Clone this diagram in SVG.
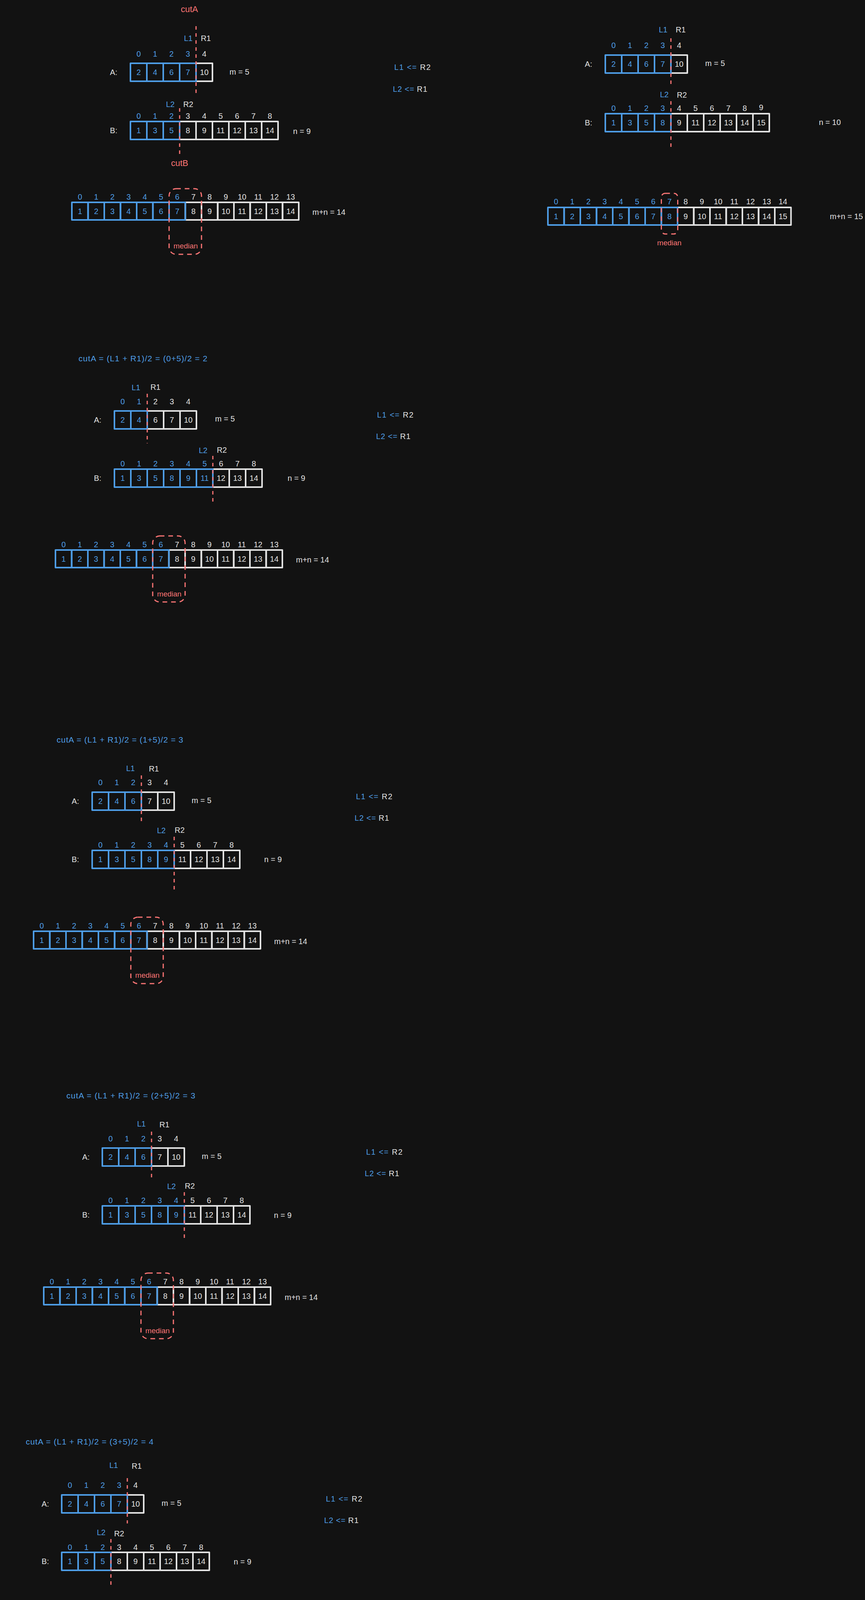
<svg xmlns="http://www.w3.org/2000/svg" width="2215" height="4324" viewBox="0 0 2215 4324">
<style>
.t{font-family:"Liberation Sans",Arial,sans-serif;font-size:20px;text-anchor:middle;dominant-baseline:central}
.s{text-anchor:start}
.f{font-size:21px}
.b{fill:#4e9de6}
.w{fill:#e2e2e2}
.r{fill:#fa7474}
.cb{fill:none;stroke:#4e9de6;stroke-width:4;stroke-linejoin:round}
.cw{fill:none;stroke:#e2e2e2;stroke-width:4;stroke-linejoin:round}
.cut{stroke:#fa7474;stroke-width:3;stroke-dasharray:9 9;fill:none}
.med{stroke:#fa7474;stroke-width:3;stroke-dasharray:12 10;fill:none}
</style>
<rect x="0" y="0" width="2215" height="4324" fill="#121212"/>

<!-- ===== Section 1 (left) ===== -->
<g id="sec1">
<text class="t r" x="485" y="23" style="font-size:22px">cutA</text>
<text class="t b" x="482" y="98">L1</text>
<text class="t w" x="527" y="98">R1</text>
<text class="t w" x="291" y="185">A:</text>
<text class="t w" x="613" y="184">m = 5</text>
<g id="s1-A" transform="translate(334,162)">
<rect class="cw" x="168" y="0" width="42" height="46"/>
<rect class="cb" x="0" y="0" width="42" height="46"/><rect class="cb" x="42" y="0" width="42" height="46"/><rect class="cb" x="84" y="0" width="42" height="46"/><rect class="cb" x="126" y="0" width="42" height="46"/>
<text class="t b" x="21" y="23">2</text><text class="t b" x="63" y="23">4</text><text class="t b" x="105" y="23">6</text><text class="t b" x="147" y="23">7</text><text class="t w" x="189" y="23">10</text>
<text class="t b" x="21" y="-24">0</text><text class="t b" x="63" y="-24">1</text><text class="t b" x="105" y="-24">2</text><text class="t b" x="147" y="-24">3</text><text class="t w" x="189" y="-24">4</text>
</g>
<text class="t b" x="436" y="267">L2</text>
<text class="t w" x="482" y="267">R2</text>
<text class="t w" x="291" y="334">B:</text>
<text class="t w" x="773" y="336">n = 9</text>
<g id="s1-B" transform="translate(334,311)">
<rect class="cw" x="126" y="0" width="42" height="46"/><rect class="cw" x="168" y="0" width="42" height="46"/><rect class="cw" x="210" y="0" width="42" height="46"/><rect class="cw" x="252" y="0" width="42" height="46"/><rect class="cw" x="294" y="0" width="42" height="46"/><rect class="cw" x="336" y="0" width="42" height="46"/>
<rect class="cb" x="0" y="0" width="42" height="46"/><rect class="cb" x="42" y="0" width="42" height="46"/><rect class="cb" x="84" y="0" width="42" height="46"/>
<text class="t b" x="21" y="23">1</text><text class="t b" x="63" y="23">3</text><text class="t b" x="105" y="23">5</text><text class="t w" x="147" y="23">8</text><text class="t w" x="189" y="23">9</text><text class="t w" x="231" y="23">11</text><text class="t w" x="273" y="23">12</text><text class="t w" x="315" y="23">13</text><text class="t w" x="357" y="23">14</text>
<text class="t b" x="21" y="-14">0</text><text class="t b" x="63" y="-14">1</text><text class="t b" x="105" y="-14">2</text><text class="t w" x="147" y="-14">3</text><text class="t w" x="189" y="-14">4</text><text class="t w" x="231" y="-14">5</text><text class="t w" x="273" y="-14">6</text><text class="t w" x="315" y="-14">7</text><text class="t w" x="357" y="-14">8</text>
</g>
<text class="t r" x="460" y="417" style="font-size:22px">cutB</text>
<text class="t b" x="1056" y="172" textLength="93" lengthAdjust="spacing">L1 &lt;= <tspan class="w">R2</tspan></text>
<text class="t b" x="1050" y="228" textLength="88" lengthAdjust="spacing">L2 &lt;= <tspan class="w">R1</tspan></text>
<g id="s1-M" transform="translate(184,518)">
<rect class="cw" x="290.5" y="0" width="41.5" height="45"/><rect class="cw" x="332" y="0" width="41.5" height="45"/><rect class="cw" x="373.5" y="0" width="41.5" height="45"/><rect class="cw" x="415" y="0" width="41.5" height="45"/><rect class="cw" x="456.5" y="0" width="41.5" height="45"/><rect class="cw" x="498" y="0" width="41.5" height="45"/><rect class="cw" x="539.5" y="0" width="41.5" height="45"/>
<rect class="cb" x="0" y="0" width="41.5" height="45"/><rect class="cb" x="41.5" y="0" width="41.5" height="45"/><rect class="cb" x="83" y="0" width="41.5" height="45"/><rect class="cb" x="124.5" y="0" width="41.5" height="45"/><rect class="cb" x="166" y="0" width="41.5" height="45"/><rect class="cb" x="207.5" y="0" width="41.5" height="45"/><rect class="cb" x="249" y="0" width="41.5" height="45"/>
<text class="t b" x="20.75" y="22.5">1</text><text class="t b" x="62.25" y="22.5">2</text><text class="t b" x="103.75" y="22.5">3</text><text class="t b" x="145.25" y="22.5">4</text><text class="t b" x="186.75" y="22.5">5</text><text class="t b" x="228.25" y="22.5">6</text><text class="t b" x="269.75" y="22.5">7</text><text class="t w" x="311.25" y="22.5">8</text><text class="t w" x="352.75" y="22.5">9</text><text class="t w" x="394.25" y="22.5">10</text><text class="t w" x="435.75" y="22.5">11</text><text class="t w" x="477.25" y="22.5">12</text><text class="t w" x="518.75" y="22.5">13</text><text class="t w" x="560.25" y="22.5">14</text>
<text class="t b" x="20.75" y="-14">0</text><text class="t b" x="62.25" y="-14">1</text><text class="t b" x="103.75" y="-14">2</text><text class="t b" x="145.25" y="-14">3</text><text class="t b" x="186.75" y="-14">4</text><text class="t b" x="228.25" y="-14">5</text><text class="t b" x="269.75" y="-14">6</text><text class="t w" x="311.25" y="-14">7</text><text class="t w" x="352.75" y="-14">8</text><text class="t w" x="394.25" y="-14">9</text><text class="t w" x="435.75" y="-14">10</text><text class="t w" x="477.25" y="-14">11</text><text class="t w" x="518.75" y="-14">12</text><text class="t w" x="560.25" y="-14">13</text>
<rect class="med" x="249" y="-35" width="83" height="168" rx="18"/>
<text class="t r" x="291.5" y="111" style="font-size:19px">median</text>
<text class="t w s" x="616" y="25">m+n = 14</text>
</g>
</g>

<!-- ===== Section 1 (right) ===== -->
<g id="sec1r">
<text class="t b" x="1698" y="76">L1</text>
<text class="t w" x="1743" y="76">R1</text>
<text class="t w" x="1507" y="164">A:</text>
<text class="t w" x="1831" y="162">m = 5</text>
<g id="s1r-A" transform="translate(1550,141)">
<rect class="cw" x="168" y="0" width="42" height="46"/>
<rect class="cb" x="0" y="0" width="42" height="46"/><rect class="cb" x="42" y="0" width="42" height="46"/><rect class="cb" x="84" y="0" width="42" height="46"/><rect class="cb" x="126" y="0" width="42" height="46"/>
<text class="t b" x="21" y="23">2</text><text class="t b" x="63" y="23">4</text><text class="t b" x="105" y="23">6</text><text class="t b" x="147" y="23">7</text><text class="t w" x="189" y="23">10</text>
<text class="t b" x="21" y="-25">0</text><text class="t b" x="63" y="-25">1</text><text class="t b" x="105" y="-25">2</text><text class="t b" x="147" y="-25">3</text><text class="t w" x="189" y="-25">4</text>
</g>
<text class="t b" x="1701" y="242">L2</text>
<text class="t w" x="1746" y="243">R2</text>
<text class="t w" x="1507" y="314">B:</text>
<text class="t w" x="2125" y="313">n = 10</text>
<g id="s1r-B" transform="translate(1550,291)">
<rect class="cw" x="168" y="0" width="42" height="46"/><rect class="cw" x="210" y="0" width="42" height="46"/><rect class="cw" x="252" y="0" width="42" height="46"/><rect class="cw" x="294" y="0" width="42" height="46"/><rect class="cw" x="336" y="0" width="42" height="46"/><rect class="cw" x="378" y="0" width="42" height="46"/>
<rect class="cb" x="0" y="0" width="42" height="46"/><rect class="cb" x="42" y="0" width="42" height="46"/><rect class="cb" x="84" y="0" width="42" height="46"/><rect class="cb" x="126" y="0" width="42" height="46"/>
<text class="t b" x="21" y="23">1</text><text class="t b" x="63" y="23">3</text><text class="t b" x="105" y="23">5</text><text class="t b" x="147" y="23">8</text><text class="t w" x="189" y="23">9</text><text class="t w" x="231" y="23">11</text><text class="t w" x="273" y="23">12</text><text class="t w" x="315" y="23">13</text><text class="t w" x="357" y="23">14</text><text class="t w" x="399" y="23">15</text>
<text class="t b" x="21" y="-14">0</text><text class="t b" x="63" y="-14">1</text><text class="t b" x="105" y="-14">2</text><text class="t b" x="147" y="-14">3</text><text class="t w" x="189" y="-14">4</text><text class="t w" x="231" y="-14">5</text><text class="t w" x="273" y="-14">6</text><text class="t w" x="315" y="-14">7</text><text class="t w" x="357" y="-14">8</text><text class="t w" x="399" y="-16">9</text>
</g>
<g id="s1r-M" transform="translate(1403,531)">
<rect class="cw" x="332" y="0" width="41.5" height="45"/><rect class="cw" x="373.5" y="0" width="41.5" height="45"/><rect class="cw" x="415" y="0" width="41.5" height="45"/><rect class="cw" x="456.5" y="0" width="41.5" height="45"/><rect class="cw" x="498" y="0" width="41.5" height="45"/><rect class="cw" x="539.5" y="0" width="41.5" height="45"/><rect class="cw" x="581" y="0" width="41.5" height="45"/>
<rect class="cb" x="0" y="0" width="41.5" height="45"/><rect class="cb" x="41.5" y="0" width="41.5" height="45"/><rect class="cb" x="83" y="0" width="41.5" height="45"/><rect class="cb" x="124.5" y="0" width="41.5" height="45"/><rect class="cb" x="166" y="0" width="41.5" height="45"/><rect class="cb" x="207.5" y="0" width="41.5" height="45"/><rect class="cb" x="249" y="0" width="41.5" height="45"/><rect class="cb" x="290.5" y="0" width="41.5" height="45"/>
<text class="t b" x="20.75" y="22.5">1</text><text class="t b" x="62.25" y="22.5">2</text><text class="t b" x="103.75" y="22.5">3</text><text class="t b" x="145.25" y="22.5">4</text><text class="t b" x="186.75" y="22.5">5</text><text class="t b" x="228.25" y="22.5">6</text><text class="t b" x="269.75" y="22.5">7</text><text class="t b" x="311.25" y="22.5">8</text><text class="t w" x="352.75" y="22.5">9</text><text class="t w" x="394.25" y="22.5">10</text><text class="t w" x="435.75" y="22.5">11</text><text class="t w" x="477.25" y="22.5">12</text><text class="t w" x="518.75" y="22.5">13</text><text class="t w" x="560.25" y="22.5">14</text><text class="t w" x="601.75" y="22.5">15</text>
<text class="t b" x="20.75" y="-15">0</text><text class="t b" x="62.25" y="-15">1</text><text class="t b" x="103.75" y="-15">2</text><text class="t b" x="145.25" y="-15">3</text><text class="t b" x="186.75" y="-15">4</text><text class="t b" x="228.25" y="-15">5</text><text class="t b" x="269.75" y="-15">6</text><text class="t b" x="311.25" y="-15">7</text><text class="t w" x="352.75" y="-15">8</text><text class="t w" x="394.25" y="-15">9</text><text class="t w" x="435.75" y="-15">10</text><text class="t w" x="477.25" y="-15">11</text><text class="t w" x="518.75" y="-15">12</text><text class="t w" x="560.25" y="-15">13</text><text class="t w" x="601.75" y="-15">14</text>
<rect class="med" x="290.5" y="-36" width="42" height="104" rx="10"/>
<text class="t r" x="311" y="90" style="font-size:19px">median</text>
<text class="t w s" x="722" y="23">m+n = 15</text>
</g>
</g>

<!-- ===== Section 2 ===== -->
<g id="sec2">
<text class="t b s f" x="201" y="917" textLength="330" lengthAdjust="spacing">cutA = (L1 + R1)/2 = (0+5)/2 = 2</text>
<text class="t b" x="348" y="992">L1</text>
<text class="t w" x="398" y="991">R1</text>
<text class="t w" x="250" y="1075">A:</text>
<text class="t w" x="576" y="1072">m = 5</text>
<g id="s2-A" transform="translate(293,1052)">
<rect class="cw" x="84" y="0" width="42" height="46"/><rect class="cw" x="126" y="0" width="42" height="46"/><rect class="cw" x="168" y="0" width="42" height="46"/>
<rect class="cb" x="0" y="0" width="42" height="46"/><rect class="cb" x="42" y="0" width="42" height="46"/>
<text class="t b" x="21" y="23">2</text><text class="t b" x="63" y="23">4</text><text class="t w" x="105" y="23">6</text><text class="t w" x="147" y="23">7</text><text class="t w" x="189" y="23">10</text>
<text class="t b" x="21" y="-24">0</text><text class="t b" x="63" y="-24">1</text><text class="t w" x="105" y="-24">2</text><text class="t w" x="147" y="-24">3</text><text class="t w" x="189" y="-24">4</text>
</g>
<text class="t b" x="520" y="1153">L2</text>
<text class="t w" x="568" y="1152">R2</text>
<text class="t w" x="250" y="1224">B:</text>
<text class="t w" x="759" y="1224">n = 9</text>
<g id="s2-B" transform="translate(293,1201)">
<rect class="cw" x="252" y="0" width="42" height="46"/><rect class="cw" x="294" y="0" width="42" height="46"/><rect class="cw" x="336" y="0" width="42" height="46"/>
<rect class="cb" x="0" y="0" width="42" height="46"/><rect class="cb" x="42" y="0" width="42" height="46"/><rect class="cb" x="84" y="0" width="42" height="46"/><rect class="cb" x="126" y="0" width="42" height="46"/><rect class="cb" x="168" y="0" width="42" height="46"/><rect class="cb" x="210" y="0" width="42" height="46"/>
<text class="t b" x="21" y="23">1</text><text class="t b" x="63" y="23">3</text><text class="t b" x="105" y="23">5</text><text class="t b" x="147" y="23">8</text><text class="t b" x="189" y="23">9</text><text class="t b" x="231" y="23">11</text><text class="t w" x="273" y="23">12</text><text class="t w" x="315" y="23">13</text><text class="t w" x="357" y="23">14</text>
<text class="t b" x="21" y="-14">0</text><text class="t b" x="63" y="-14">1</text><text class="t b" x="105" y="-14">2</text><text class="t b" x="147" y="-14">3</text><text class="t b" x="189" y="-14">4</text><text class="t b" x="231" y="-14">5</text><text class="t w" x="273" y="-14">6</text><text class="t w" x="315" y="-14">7</text><text class="t w" x="357" y="-14">8</text>
</g>
<text class="t b" x="1012" y="1062" textLength="93" lengthAdjust="spacing">L1 &lt;= <tspan class="w">R2</tspan></text>
<text class="t b" x="1007" y="1117" textLength="88" lengthAdjust="spacing">L2 &lt;= <tspan class="w">R1</tspan></text>
<g id="s2-M" transform="translate(142,1408)">
<rect class="cw" x="290.5" y="0" width="41.5" height="45"/><rect class="cw" x="332" y="0" width="41.5" height="45"/><rect class="cw" x="373.5" y="0" width="41.5" height="45"/><rect class="cw" x="415" y="0" width="41.5" height="45"/><rect class="cw" x="456.5" y="0" width="41.5" height="45"/><rect class="cw" x="498" y="0" width="41.5" height="45"/><rect class="cw" x="539.5" y="0" width="41.5" height="45"/>
<rect class="cb" x="0" y="0" width="41.5" height="45"/><rect class="cb" x="41.5" y="0" width="41.5" height="45"/><rect class="cb" x="83" y="0" width="41.5" height="45"/><rect class="cb" x="124.5" y="0" width="41.5" height="45"/><rect class="cb" x="166" y="0" width="41.5" height="45"/><rect class="cb" x="207.5" y="0" width="41.5" height="45"/><rect class="cb" x="249" y="0" width="41.5" height="45"/>
<text class="t b" x="20.75" y="22.5">1</text><text class="t b" x="62.25" y="22.5">2</text><text class="t b" x="103.75" y="22.5">3</text><text class="t b" x="145.25" y="22.5">4</text><text class="t b" x="186.75" y="22.5">5</text><text class="t b" x="228.25" y="22.5">6</text><text class="t b" x="269.75" y="22.5">7</text><text class="t w" x="311.25" y="22.5">8</text><text class="t w" x="352.75" y="22.5">9</text><text class="t w" x="394.25" y="22.5">10</text><text class="t w" x="435.75" y="22.5">11</text><text class="t w" x="477.25" y="22.5">12</text><text class="t w" x="518.75" y="22.5">13</text><text class="t w" x="560.25" y="22.5">14</text>
<text class="t b" x="20.75" y="-14">0</text><text class="t b" x="62.25" y="-14">1</text><text class="t b" x="103.75" y="-14">2</text><text class="t b" x="145.25" y="-14">3</text><text class="t b" x="186.75" y="-14">4</text><text class="t b" x="228.25" y="-14">5</text><text class="t b" x="269.75" y="-14">6</text><text class="t w" x="311.25" y="-14">7</text><text class="t w" x="352.75" y="-14">8</text><text class="t w" x="394.25" y="-14">9</text><text class="t w" x="435.75" y="-14">10</text><text class="t w" x="477.25" y="-14">11</text><text class="t w" x="518.75" y="-14">12</text><text class="t w" x="560.25" y="-14">13</text>
<rect class="med" x="249" y="-36" width="83" height="169" rx="18"/>
<text class="t r" x="291.5" y="112" style="font-size:19px">median</text>
<text class="t w s" x="616" y="25">m+n = 14</text>
</g>
</g>

<!-- ===== Section 3 ===== -->
<g id="sec3">
<text class="t b s f" x="145" y="1893" textLength="324" lengthAdjust="spacing">cutA = (L1 + R1)/2 = (1+5)/2 = 3</text>
<text class="t b" x="334" y="1967">L1</text>
<text class="t w" x="394" y="1968">R1</text>
<text class="t w" x="193" y="2051">A:</text>
<text class="t w" x="516" y="2049">m = 5</text>
<g id="s3-A" transform="translate(236,2028)">
<rect class="cw" x="126" y="0" width="42" height="46"/><rect class="cw" x="168" y="0" width="42" height="46"/>
<rect class="cb" x="0" y="0" width="42" height="46"/><rect class="cb" x="42" y="0" width="42" height="46"/><rect class="cb" x="84" y="0" width="42" height="46"/>
<text class="t b" x="21" y="23">2</text><text class="t b" x="63" y="23">4</text><text class="t b" x="105" y="23">6</text><text class="t w" x="147" y="23">7</text><text class="t w" x="189" y="23">10</text>
<text class="t b" x="21" y="-25">0</text><text class="t b" x="63" y="-25">1</text><text class="t b" x="105" y="-25">2</text><text class="t w" x="147" y="-25">3</text><text class="t w" x="189" y="-25">4</text>
</g>
<text class="t b" x="413" y="2126">L2</text>
<text class="t w" x="460" y="2125">R2</text>
<text class="t w" x="193" y="2200">B:</text>
<text class="t w" x="699" y="2200">n = 9</text>
<g id="s3-B" transform="translate(236,2177)">
<rect class="cw" x="210" y="0" width="42" height="46"/><rect class="cw" x="252" y="0" width="42" height="46"/><rect class="cw" x="294" y="0" width="42" height="46"/><rect class="cw" x="336" y="0" width="42" height="46"/>
<rect class="cb" x="0" y="0" width="42" height="46"/><rect class="cb" x="42" y="0" width="42" height="46"/><rect class="cb" x="84" y="0" width="42" height="46"/><rect class="cb" x="126" y="0" width="42" height="46"/><rect class="cb" x="168" y="0" width="42" height="46"/>
<text class="t b" x="21" y="23">1</text><text class="t b" x="63" y="23">3</text><text class="t b" x="105" y="23">5</text><text class="t b" x="147" y="23">8</text><text class="t b" x="189" y="23">9</text><text class="t w" x="231" y="23">11</text><text class="t w" x="273" y="23">12</text><text class="t w" x="315" y="23">13</text><text class="t w" x="357" y="23">14</text>
<text class="t b" x="21" y="-14">0</text><text class="t b" x="63" y="-14">1</text><text class="t b" x="105" y="-14">2</text><text class="t b" x="147" y="-14">3</text><text class="t b" x="189" y="-14">4</text><text class="t w" x="231" y="-14">5</text><text class="t w" x="273" y="-14">6</text><text class="t w" x="315" y="-14">7</text><text class="t w" x="357" y="-14">8</text>
</g>
<text class="t b" x="958" y="2039" textLength="93" lengthAdjust="spacing">L1 &lt;= <tspan class="w">R2</tspan></text>
<text class="t b" x="952" y="2094" textLength="88" lengthAdjust="spacing">L2 &lt;= <tspan class="w">R1</tspan></text>
<g id="s3-M" transform="translate(86,2384)">
<rect class="cw" x="290.5" y="0" width="41.5" height="45"/><rect class="cw" x="332" y="0" width="41.5" height="45"/><rect class="cw" x="373.5" y="0" width="41.5" height="45"/><rect class="cw" x="415" y="0" width="41.5" height="45"/><rect class="cw" x="456.5" y="0" width="41.5" height="45"/><rect class="cw" x="498" y="0" width="41.5" height="45"/><rect class="cw" x="539.5" y="0" width="41.5" height="45"/>
<rect class="cb" x="0" y="0" width="41.5" height="45"/><rect class="cb" x="41.5" y="0" width="41.5" height="45"/><rect class="cb" x="83" y="0" width="41.5" height="45"/><rect class="cb" x="124.5" y="0" width="41.5" height="45"/><rect class="cb" x="166" y="0" width="41.5" height="45"/><rect class="cb" x="207.5" y="0" width="41.5" height="45"/><rect class="cb" x="249" y="0" width="41.5" height="45"/>
<text class="t b" x="20.75" y="22.5">1</text><text class="t b" x="62.25" y="22.5">2</text><text class="t b" x="103.75" y="22.5">3</text><text class="t b" x="145.25" y="22.5">4</text><text class="t b" x="186.75" y="22.5">5</text><text class="t b" x="228.25" y="22.5">6</text><text class="t b" x="269.75" y="22.5">7</text><text class="t w" x="311.25" y="22.5">8</text><text class="t w" x="352.75" y="22.5">9</text><text class="t w" x="394.25" y="22.5">10</text><text class="t w" x="435.75" y="22.5">11</text><text class="t w" x="477.25" y="22.5">12</text><text class="t w" x="518.75" y="22.5">13</text><text class="t w" x="560.25" y="22.5">14</text>
<text class="t b" x="20.75" y="-14">0</text><text class="t b" x="62.25" y="-14">1</text><text class="t b" x="103.75" y="-14">2</text><text class="t b" x="145.25" y="-14">3</text><text class="t b" x="186.75" y="-14">4</text><text class="t b" x="228.25" y="-14">5</text><text class="t b" x="269.75" y="-14">6</text><text class="t w" x="311.25" y="-14">7</text><text class="t w" x="352.75" y="-14">8</text><text class="t w" x="394.25" y="-14">9</text><text class="t w" x="435.75" y="-14">10</text><text class="t w" x="477.25" y="-14">11</text><text class="t w" x="518.75" y="-14">12</text><text class="t w" x="560.25" y="-14">13</text>
<rect class="med" x="249" y="-36" width="83" height="170" rx="18"/>
<text class="t r" x="291.5" y="112" style="font-size:19px">median</text>
<text class="t w s" x="616" y="26">m+n = 14</text>
</g>
</g>

<!-- ===== Section 4 ===== -->
<g id="sec4">
<text class="t b s f" x="170" y="2804" textLength="330" lengthAdjust="spacing">cutA = (L1 + R1)/2 = (2+5)/2 = 3</text>
<text class="t b" x="362" y="2877">L1</text>
<text class="t w" x="421" y="2879">R1</text>
<text class="t w" x="220" y="2962">A:</text>
<text class="t w" x="542" y="2960">m = 5</text>
<g id="s4-A" transform="translate(262,2939)">
<rect class="cw" x="126" y="0" width="42" height="46"/><rect class="cw" x="168" y="0" width="42" height="46"/>
<rect class="cb" x="0" y="0" width="42" height="46"/><rect class="cb" x="42" y="0" width="42" height="46"/><rect class="cb" x="84" y="0" width="42" height="46"/>
<text class="t b" x="21" y="23">2</text><text class="t b" x="63" y="23">4</text><text class="t b" x="105" y="23">6</text><text class="t w" x="147" y="23">7</text><text class="t w" x="189" y="23">10</text>
<text class="t b" x="21" y="-24">0</text><text class="t b" x="63" y="-24">1</text><text class="t b" x="105" y="-24">2</text><text class="t w" x="147" y="-24">3</text><text class="t w" x="189" y="-24">4</text>
</g>
<text class="t b" x="439" y="3037">L2</text>
<text class="t w" x="486" y="3036">R2</text>
<text class="t w" x="220" y="3110">B:</text>
<text class="t w" x="724" y="3111">n = 9</text>
<g id="s4-B" transform="translate(262,3087)">
<rect class="cw" x="210" y="0" width="42" height="46"/><rect class="cw" x="252" y="0" width="42" height="46"/><rect class="cw" x="294" y="0" width="42" height="46"/><rect class="cw" x="336" y="0" width="42" height="46"/>
<rect class="cb" x="0" y="0" width="42" height="46"/><rect class="cb" x="42" y="0" width="42" height="46"/><rect class="cb" x="84" y="0" width="42" height="46"/><rect class="cb" x="126" y="0" width="42" height="46"/><rect class="cb" x="168" y="0" width="42" height="46"/>
<text class="t b" x="21" y="23">1</text><text class="t b" x="63" y="23">3</text><text class="t b" x="105" y="23">5</text><text class="t b" x="147" y="23">8</text><text class="t b" x="189" y="23">9</text><text class="t w" x="231" y="23">11</text><text class="t w" x="273" y="23">12</text><text class="t w" x="315" y="23">13</text><text class="t w" x="357" y="23">14</text>
<text class="t b" x="21" y="-14">0</text><text class="t b" x="63" y="-14">1</text><text class="t b" x="105" y="-14">2</text><text class="t b" x="147" y="-14">3</text><text class="t b" x="189" y="-14">4</text><text class="t w" x="231" y="-14">5</text><text class="t w" x="273" y="-14">6</text><text class="t w" x="315" y="-14">7</text><text class="t w" x="357" y="-14">8</text>
</g>
<text class="t b" x="984" y="2949" textLength="93" lengthAdjust="spacing">L1 &lt;= <tspan class="w">R2</tspan></text>
<text class="t b" x="978" y="3004" textLength="88" lengthAdjust="spacing">L2 &lt;= <tspan class="w">R1</tspan></text>
<g id="s4-M" transform="translate(112,3295)">
<rect class="cw" x="290.5" y="0" width="41.5" height="45"/><rect class="cw" x="332" y="0" width="41.5" height="45"/><rect class="cw" x="373.5" y="0" width="41.5" height="45"/><rect class="cw" x="415" y="0" width="41.5" height="45"/><rect class="cw" x="456.5" y="0" width="41.5" height="45"/><rect class="cw" x="498" y="0" width="41.5" height="45"/><rect class="cw" x="539.5" y="0" width="41.5" height="45"/>
<rect class="cb" x="0" y="0" width="41.5" height="45"/><rect class="cb" x="41.5" y="0" width="41.5" height="45"/><rect class="cb" x="83" y="0" width="41.5" height="45"/><rect class="cb" x="124.5" y="0" width="41.5" height="45"/><rect class="cb" x="166" y="0" width="41.5" height="45"/><rect class="cb" x="207.5" y="0" width="41.5" height="45"/><rect class="cb" x="249" y="0" width="41.5" height="45"/>
<text class="t b" x="20.75" y="22.5">1</text><text class="t b" x="62.25" y="22.5">2</text><text class="t b" x="103.75" y="22.5">3</text><text class="t b" x="145.25" y="22.5">4</text><text class="t b" x="186.75" y="22.5">5</text><text class="t b" x="228.25" y="22.5">6</text><text class="t b" x="269.75" y="22.5">7</text><text class="t w" x="311.25" y="22.5">8</text><text class="t w" x="352.75" y="22.5">9</text><text class="t w" x="394.25" y="22.5">10</text><text class="t w" x="435.75" y="22.5">11</text><text class="t w" x="477.25" y="22.5">12</text><text class="t w" x="518.75" y="22.5">13</text><text class="t w" x="560.25" y="22.5">14</text>
<text class="t b" x="20.75" y="-14">0</text><text class="t b" x="62.25" y="-14">1</text><text class="t b" x="103.75" y="-14">2</text><text class="t b" x="145.25" y="-14">3</text><text class="t b" x="186.75" y="-14">4</text><text class="t b" x="228.25" y="-14">5</text><text class="t b" x="269.75" y="-14">6</text><text class="t w" x="311.25" y="-14">7</text><text class="t w" x="352.75" y="-14">8</text><text class="t w" x="394.25" y="-14">9</text><text class="t w" x="435.75" y="-14">10</text><text class="t w" x="477.25" y="-14">11</text><text class="t w" x="518.75" y="-14">12</text><text class="t w" x="560.25" y="-14">13</text>
<rect class="med" x="249" y="-36" width="83" height="168" rx="18"/>
<text class="t r" x="291.5" y="111" style="font-size:19px">median</text>
<text class="t w s" x="617" y="26">m+n = 14</text>
</g>
</g>

<!-- ===== Section 5 ===== -->
<g id="sec5">
<text class="t b s f" x="66" y="3690" textLength="327" lengthAdjust="spacing">cutA = (L1 + R1)/2 = (3+5)/2 = 4</text>
<text class="t b" x="291" y="3751">L1</text>
<text class="t w" x="350" y="3753">R1</text>
<text class="t w" x="116" y="3850">A:</text>
<text class="t w" x="439" y="3848">m = 5</text>
<g id="s5-A" transform="translate(158,3827)">
<rect class="cw" x="168" y="0" width="42" height="46"/>
<rect class="cb" x="0" y="0" width="42" height="46"/><rect class="cb" x="42" y="0" width="42" height="46"/><rect class="cb" x="84" y="0" width="42" height="46"/><rect class="cb" x="126" y="0" width="42" height="46"/>
<text class="t b" x="21" y="23">2</text><text class="t b" x="63" y="23">4</text><text class="t b" x="105" y="23">6</text><text class="t b" x="147" y="23">7</text><text class="t w" x="189" y="23">10</text>
<text class="t b" x="21" y="-25">0</text><text class="t b" x="63" y="-25">1</text><text class="t b" x="105" y="-25">2</text><text class="t b" x="147" y="-25">3</text><text class="t w" x="189" y="-25">4</text>
</g>
<text class="t b" x="259" y="3923">L2</text>
<text class="t w" x="305" y="3926">R2</text>
<text class="t w" x="116" y="3997">B:</text>
<text class="t w" x="621" y="3998">n = 9</text>
<g id="s5-B" transform="translate(158,3974)">
<rect class="cw" x="126" y="0" width="42" height="46"/><rect class="cw" x="168" y="0" width="42" height="46"/><rect class="cw" x="210" y="0" width="42" height="46"/><rect class="cw" x="252" y="0" width="42" height="46"/><rect class="cw" x="294" y="0" width="42" height="46"/><rect class="cw" x="336" y="0" width="42" height="46"/>
<rect class="cb" x="0" y="0" width="42" height="46"/><rect class="cb" x="42" y="0" width="42" height="46"/><rect class="cb" x="84" y="0" width="42" height="46"/>
<text class="t b" x="21" y="23">1</text><text class="t b" x="63" y="23">3</text><text class="t b" x="105" y="23">5</text><text class="t w" x="147" y="23">8</text><text class="t w" x="189" y="23">9</text><text class="t w" x="231" y="23">11</text><text class="t w" x="273" y="23">12</text><text class="t w" x="315" y="23">13</text><text class="t w" x="357" y="23">14</text>
<text class="t b" x="21" y="-13">0</text><text class="t b" x="63" y="-13">1</text><text class="t b" x="105" y="-13">2</text><text class="t w" x="147" y="-13">3</text><text class="t w" x="189" y="-13">4</text><text class="t w" x="231" y="-13">5</text><text class="t w" x="273" y="-13">6</text><text class="t w" x="315" y="-13">7</text><text class="t w" x="357" y="-13">8</text>
</g>
<text class="t b" x="881" y="3837" textLength="93" lengthAdjust="spacing">L1 &lt;= <tspan class="w">R2</tspan></text>
<text class="t b" x="874" y="3892" textLength="88" lengthAdjust="spacing">L2 &lt;= <tspan class="w">R1</tspan></text>
<g id="s5-M" transform="translate(8,4183)">
<rect class="cw" x="290.5" y="0" width="41.5" height="45"/><rect class="cw" x="332" y="0" width="41.5" height="45"/><rect class="cw" x="373.5" y="0" width="41.5" height="45"/><rect class="cw" x="415" y="0" width="41.5" height="45"/><rect class="cw" x="456.5" y="0" width="41.5" height="45"/><rect class="cw" x="498" y="0" width="41.5" height="45"/><rect class="cw" x="539.5" y="0" width="41.5" height="45"/>
<rect class="cb" x="0" y="0" width="41.5" height="45"/><rect class="cb" x="41.5" y="0" width="41.5" height="45"/><rect class="cb" x="83" y="0" width="41.5" height="45"/><rect class="cb" x="124.5" y="0" width="41.5" height="45"/><rect class="cb" x="166" y="0" width="41.5" height="45"/><rect class="cb" x="207.5" y="0" width="41.5" height="45"/><rect class="cb" x="249" y="0" width="41.5" height="45"/>
<text class="t b" x="20.75" y="22.5">1</text><text class="t b" x="62.25" y="22.5">2</text><text class="t b" x="103.75" y="22.5">3</text><text class="t b" x="145.25" y="22.5">4</text><text class="t b" x="186.75" y="22.5">5</text><text class="t b" x="228.25" y="22.5">6</text><text class="t b" x="269.75" y="22.5">7</text><text class="t w" x="311.25" y="22.5">8</text><text class="t w" x="352.75" y="22.5">9</text><text class="t w" x="394.25" y="22.5">10</text><text class="t w" x="435.75" y="22.5">11</text><text class="t w" x="477.25" y="22.5">12</text><text class="t w" x="518.75" y="22.5">13</text><text class="t w" x="560.25" y="22.5">14</text>
<text class="t b" x="20.75" y="-14">0</text><text class="t b" x="62.25" y="-14">1</text><text class="t b" x="103.75" y="-14">2</text><text class="t b" x="145.25" y="-14">3</text><text class="t b" x="186.75" y="-14">4</text><text class="t b" x="228.25" y="-14">5</text><text class="t b" x="269.75" y="-14">6</text><text class="t w" x="311.25" y="-14">7</text><text class="t w" x="352.75" y="-14">8</text><text class="t w" x="394.25" y="-14">9</text><text class="t w" x="435.75" y="-14">10</text><text class="t w" x="477.25" y="-14">11</text><text class="t w" x="518.75" y="-14">12</text><text class="t w" x="560.25" y="-14">13</text>
<rect class="med" x="250" y="-36" width="83" height="168" rx="18"/>
<text class="t r" x="292" y="111" style="font-size:19px">median</text>
<text class="t w s" x="616" y="26">m+n = 14</text>
</g>
</g>

<!-- ===== Cut lines (dashed connectors) ===== -->
<g id="connectors">
<line class="cut" x1="502" y1="67" x2="502" y2="238"/>
<line class="cut" x1="460" y1="277" x2="460" y2="395"/>
<line class="cut" x1="1718" y1="98" x2="1718" y2="217"/>
<line class="cut" x1="1718" y1="259" x2="1718" y2="378"/>
<line class="cut" x1="377" y1="1008" x2="377" y2="1135"/>
<line class="cut" x1="545" y1="1167" x2="545" y2="1293"/>
<line class="cut" x1="362" y1="1985" x2="362" y2="2102"/>
<line class="cut" x1="446" y1="2142" x2="446" y2="2278"/>
<line class="cut" x1="388" y1="2897" x2="388" y2="3015"/>
<line class="cut" x1="472" y1="3052" x2="472" y2="3170"/>
<line class="cut" x1="326" y1="3784" x2="326" y2="3900"/>
<line class="cut" x1="284" y1="3940" x2="284" y2="4060"/>
</g>
</svg>
